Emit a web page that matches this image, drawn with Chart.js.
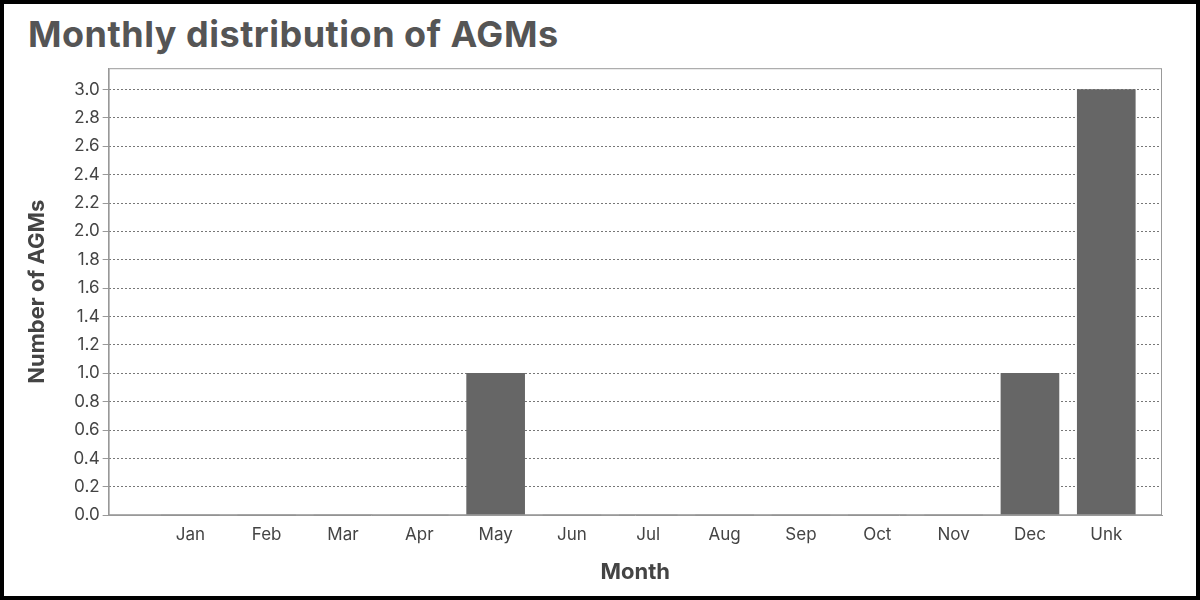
<!DOCTYPE html>
<html>
<head>
<meta charset="utf-8">
<script src="https://cdn.jsdelivr.net/npm/chart.js@4"></script>
<style>
  html, body { margin: 0; padding: 0; background: #fff; }
  .frame { box-sizing: border-box; width: 1200px; height: 600px; border: 4px solid #000; position: relative; }
  h1 { position: absolute; left: 24px; top: 8px; margin: 0; font: bold 36px Inter, "Noto Sans", sans-serif; color: #555; letter-spacing: 0.5px; }
  .wrap { position: absolute; left: 10px; top: 51px; width: 1176px; height: 535px; }
</style>
</head>
<body>
<div class="frame">
  <h1>Monthly distribution of AGMs</h1>
  <div class="wrap"><canvas id="chart"></canvas></div>
</div>
<script>
const months = ['Jan', 'Feb', 'Mar', 'Apr', 'May', 'Jun', 'Jul', 'Aug', 'Sep', 'Oct', 'Nov', 'Dec', 'Unk'];
const counts = [0, 0, 0, 0, 1, 0, 0, 0, 0, 0, 0, 1, 3];

const points = months.map((m, i) => ({ x: i, y: counts[i] }));

new Chart(document.getElementById('chart'), {
    type: 'bar',
    data: {
        datasets: [{
            label: 'AGMs',
            data: points,
            backgroundColor: '#666666',
            barThickness: 58
        }]
    },
    options: {
        responsive: true,
        maintainAspectRatio: false,
        animation: false,
        layout: { padding: { right: 28, top: 2 } },
        plugins: { legend: { display: false }, tooltip: { enabled: false } },
        scales: {
            x: {
                type: 'linear',
                min: -1.07,
                max: 12.73,
                offset: false,
                afterBuildTicks: axis => { axis.ticks = months.map((m, i) => ({ value: i })); },
                ticks: {
                    callback: v => months[v] ?? '',
                    color: '#444',
                    font: { family: 'Inter, "Noto Sans", sans-serif', size: 17 },
                    maxRotation: 0,
                    autoSkip: false
                },
                grid: { display: false, drawTicks: true, tickLength: 6 },
                border: { display: true, color: '#999' },
                title: {
                    display: true,
                    text: 'Month',
                    color: '#444',
                    font: { family: 'Inter, "Noto Sans", sans-serif', size: 22, weight: 'bold' },
                    padding: { top: 12, bottom: 4 }
                }
            },
            y: {
                min: 0,
                max: 3.15,
                afterBuildTicks: axis => {
                    const t = [];
                    for (let i = 0; i <= 15; i++) t.push({ value: i / 5 });
                    axis.ticks = t;
                },
                ticks: {
                    callback: v => v.toFixed(1),
                    color: '#444',
                    font: { family: 'Inter, "Noto Sans", sans-serif', size: 17 }
                },
                grid: { color: '#777', lineWidth: 1, tickLength: 6, tickColor: '#999' },
                border: { display: true, color: '#999', dash: [2, 2] },
                title: {
                    display: true,
                    text: 'Number of AGMs',
                    color: '#444',
                    font: { family: 'Inter, "Noto Sans", sans-serif', size: 22, weight: 'bold' },
                    padding: { top: 10, bottom: 20 }
                }
            }
        }
    },
    plugins: [{
        id: 'frameBox',
        afterDraw(chart) {
            const { ctx, chartArea: a } = chart;
            ctx.save();
            ctx.strokeStyle = '#999';
            ctx.lineWidth = 1;
            ctx.setLineDash([]);
            ctx.strokeRect(a.left + 0.5, a.top + 0.5, a.right - a.left - 1, a.bottom - a.top - 1);
            ctx.restore();
        }
    }]
});
</script>
</body>
</html>
